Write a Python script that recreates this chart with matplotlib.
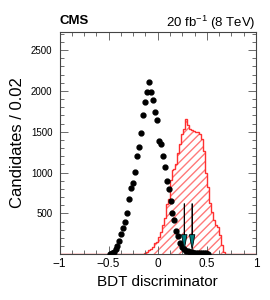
import numpy as np
import matplotlib.pyplot as plt
from matplotlib.ticker import MultipleLocator

plt.rcParams['font.family'] = ['Liberation Sans', 'DejaVu Sans']
plt.rcParams['mathtext.fontset'] = 'custom'
plt.rcParams['mathtext.rm'] = 'Liberation Sans'
plt.rcParams['mathtext.default'] = 'regular'

# data points (bin centres, candidates per 0.02)
data_x = [-0.49, -0.47, -0.45, -0.43, -0.41, -0.39, -0.37, -0.35, -0.33, -0.31,
          -0.29, -0.27, -0.25, -0.23, -0.21, -0.19, -0.17, -0.15, -0.13, -0.11,
          -0.09, -0.07, -0.05, -0.03, -0.01, 0.01, 0.03, 0.05, 0.07, 0.09,
          0.11, 0.13, 0.15, 0.17, 0.19, 0.21, 0.23, 0.25, 0.27, 0.29,
          0.31, 0.33, 0.35, 0.37, 0.39, 0.41, 0.43, 0.45, 0.47, 0.49, 0.51]
data_y = [5, 15, 30, 60, 100, 160, 250, 325, 400, 505,
          675, 815, 870, 1010, 1205, 1315, 1485, 1705, 1865, 1990,
          2110, 1990, 1885, 1745, 1650, 1385, 1355, 1200, 1065, 895,
          800, 650, 500, 418, 290, 220, 140, 85, 60, 45,
          35, 30, 25, 22, 20, 18, 15, 13, 12, 10, 8]

# signal MC histogram, bins of 0.02 starting at -0.14
sig_start = -0.14
sig_vals = [10, 30, 50, 65, 95, 135, 155, 215, 275, 355,
            440, 620, 680, 910, 1030, 1050, 1110, 1235, 1355, 1475,
            1540, 1660, 1580, 1540, 1520, 1515, 1500, 1495, 1475, 1415,
            1270, 990, 825, 622, 520, 418, 357, 337, 235, 113, 32]

# cut arrows
cut_x = [0.27, 0.35]
arrow_top = 620
arrow_tip = 60

bw = 0.02
n_lo = int(round((sig_start + 1) / bw))
n_hi = int(round(2 / bw)) - n_lo - len(sig_vals)
hist = np.concatenate([np.zeros(n_lo), sig_vals, np.zeros(n_hi)])
edges = np.linspace(-1, 1, len(hist) + 1)

fig = plt.figure(figsize=(2.7, 3.0), dpi=100)
ax = fig.add_axes([59.5 / 270, 1 - 254.3 / 300, (256 - 59.5) / 270, (254.3 - 31.7) / 300])

ax.stairs(hist, edges, fill=True, facecolor='none', edgecolor=(1, 0.3, 0.3, 0.75),
          hatch='////', linewidth=0)
ax.stairs(hist, edges, color='#ff3030', linewidth=1.0)

ax.plot(data_x, data_y, 'o', color='black', markersize=3.5, zorder=4)

for cx in cut_x:
    ax.arrow(cx, arrow_top, 0, arrow_tip - arrow_top, width=0.003, head_width=0.055,
             head_length=180, length_includes_head=True, facecolor='#007f7f',
             edgecolor='black', linewidth=0.6, zorder=5)

ax.set_xlim(-1, 1)
ax.set_ylim(0, 2725)
ax.xaxis.set_major_locator(MultipleLocator(0.5))
ax.xaxis.set_minor_locator(MultipleLocator(0.125))
ax.yaxis.set_major_locator(MultipleLocator(500))
ax.yaxis.set_minor_locator(MultipleLocator(100))
ax.set_xticks([-1, -0.5, 0, 0.5, 1])
ax.set_xticklabels(['\u22121', '\u22120.5', '0', '0.5', '1'])
ax.set_yticks([500, 1000, 1500, 2000, 2500])
ax.tick_params(which='both', direction='in', top=True, right=True, color='#555555', width=0.6)
ax.tick_params(which='major', length=5.5)
ax.tick_params(which='minor', length=3)
ax.tick_params(axis='x', labelsize=8.5, pad=3)
ax.tick_params(axis='y', labelsize=7, pad=5)
for s in ax.spines.values():
    s.set_color('#444444')
    s.set_linewidth(0.8)

ax.set_xlabel('BDT discriminator', fontsize=11, labelpad=3)
ax.set_ylabel('Candidates / 0.02', fontsize=12, labelpad=4)

fig.text(59.5 / 270, 1 - 24 / 300, 'CMS', fontsize=9.5, fontweight='bold', ha='left', va='baseline')
fig.text(256 / 270, 1 - 26.5 / 300, r'20 fb$^{-1}$ (8 TeV)', fontsize=9.5, ha='right', va='baseline')

fig.savefig('out.png', dpi=100)
